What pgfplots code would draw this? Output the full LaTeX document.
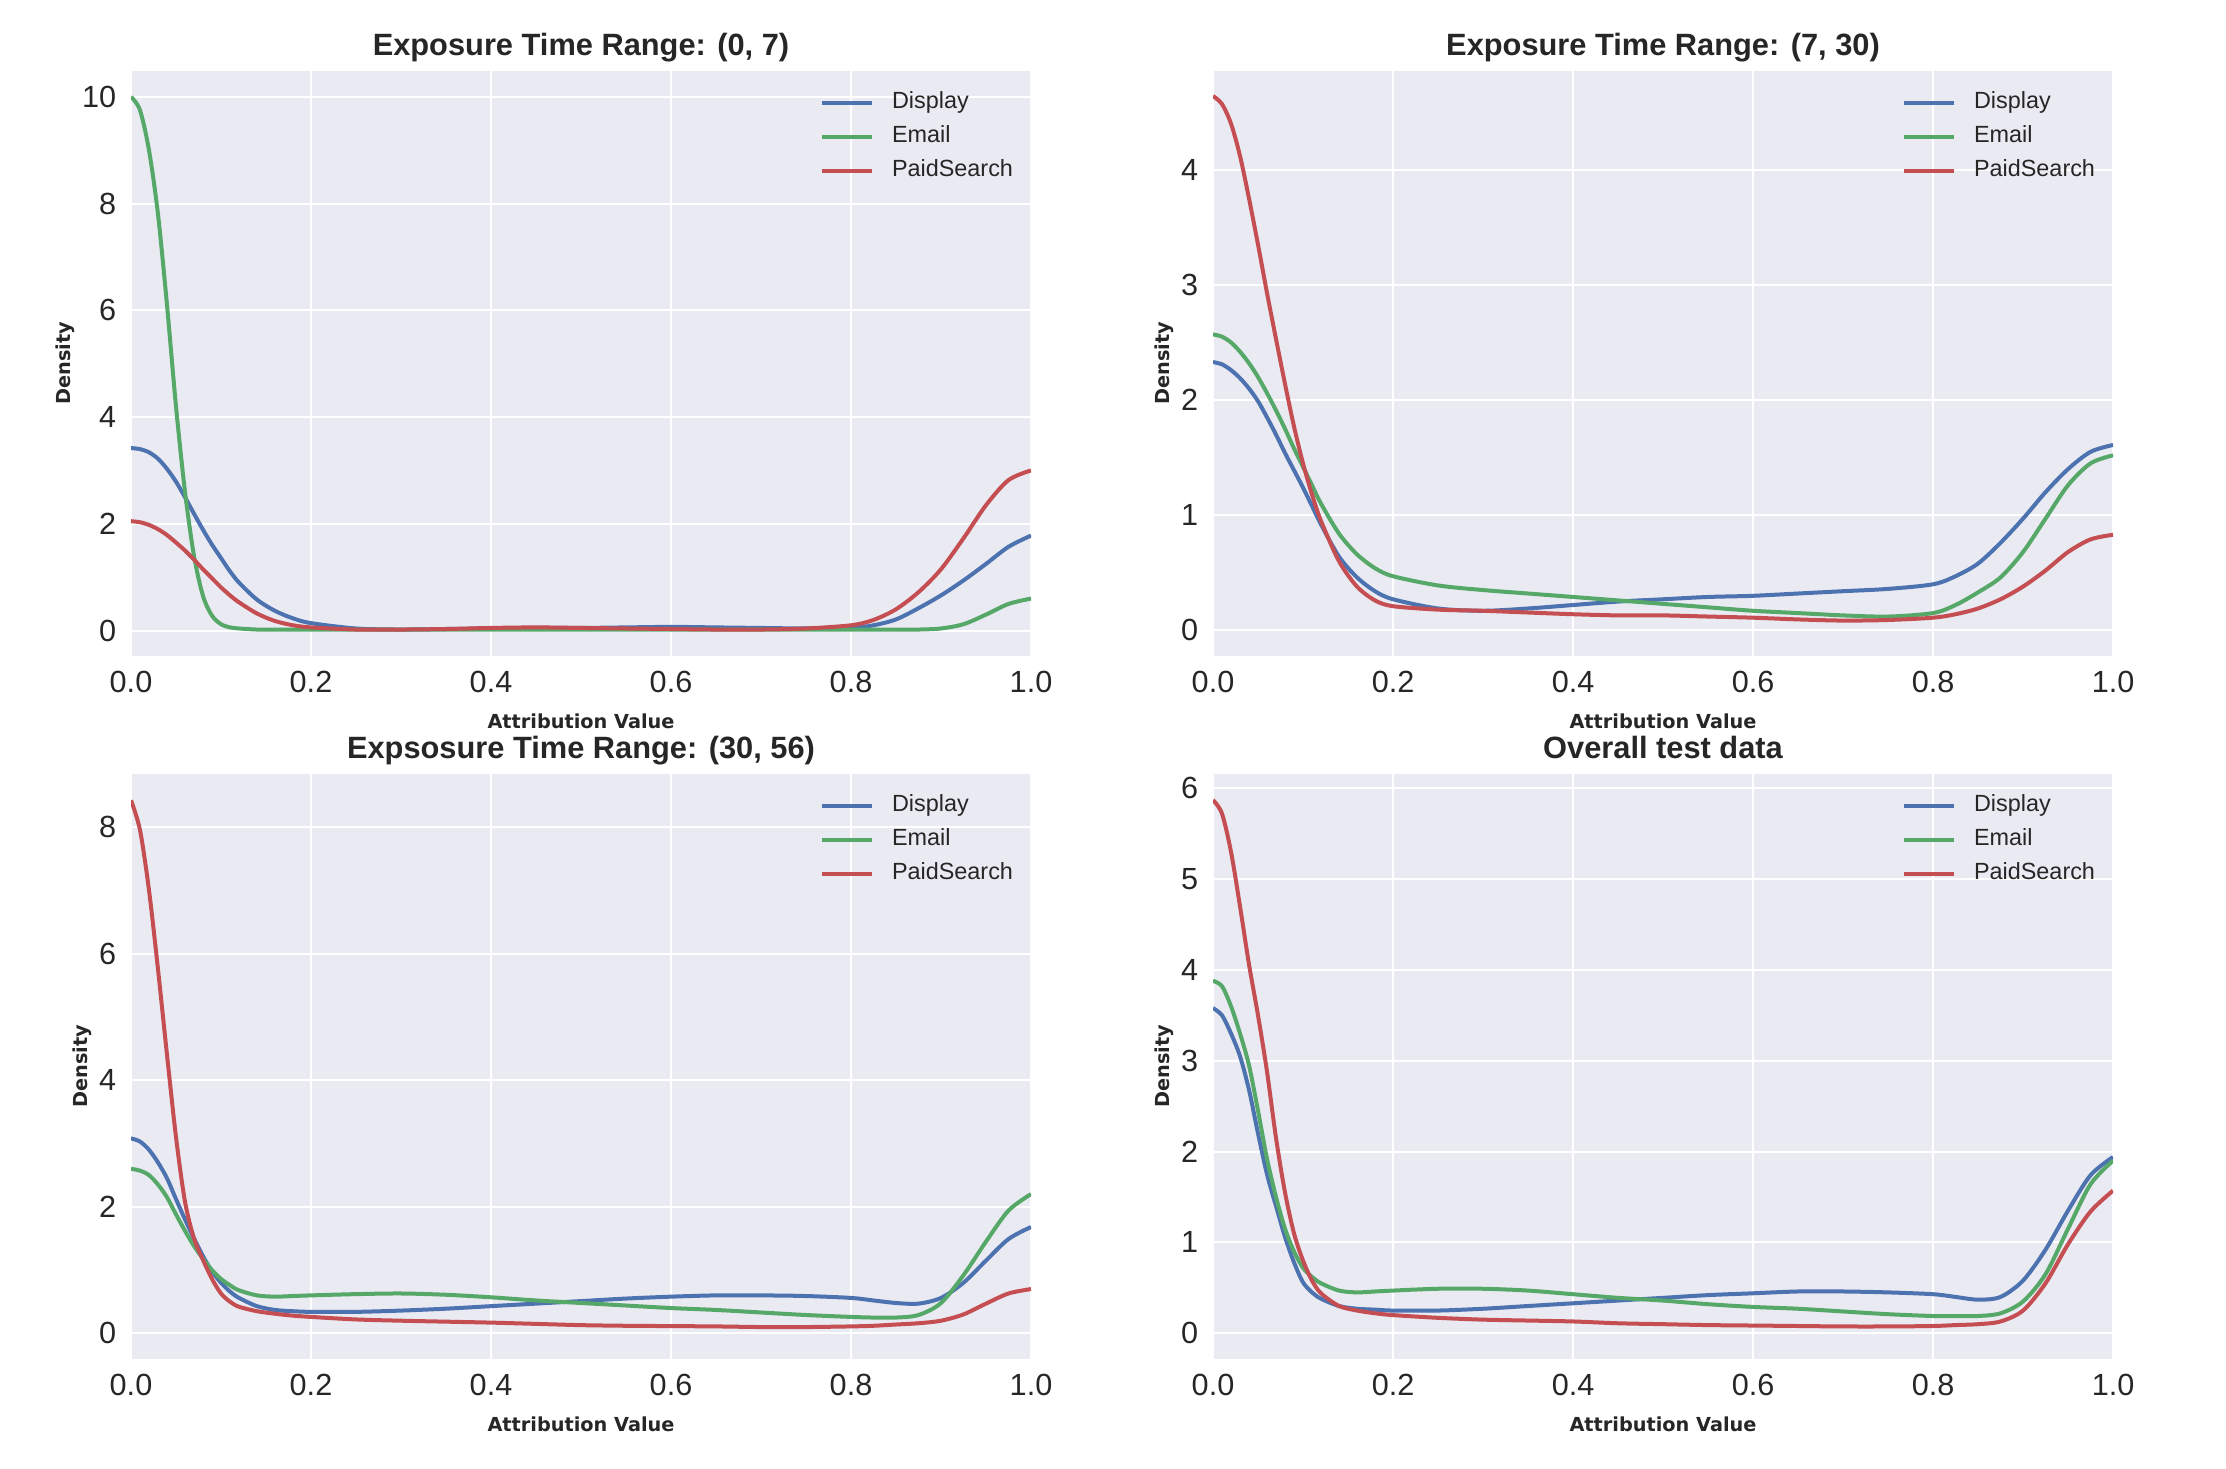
\documentclass[border=0pt]{standalone}
\usepackage{fontspec}
\setmainfont{Liberation Sans}
\newfontfamily\dejavu{DejaVu Sans}
\usepackage{pgfplots}
\pgfplotsset{compat=1.18}
\usepackage{pgfplotstable}
\definecolor{bgc}{HTML}{EAEAF2}
\definecolor{cdisp}{HTML}{4C72B0}
\definecolor{cmail}{HTML}{55A868}
\definecolor{cpaid}{HTML}{C44E52}
\definecolor{txt}{HTML}{262626}

% Exposure (0,7)
\pgfplotstableread{
x d e p
0 3.42 10.0 2.05
0.01 3.40 9.75 2.03
0.02 3.34 9.0 1.98
0.03 3.22 7.8 1.90
0.04 3.03 6.1 1.79
0.05 2.79 4.2 1.65
0.06 2.50 2.6 1.50
0.07 2.19 1.4 1.33
0.08 1.89 0.65 1.15
0.09 1.61 0.28 0.98
0.10 1.36 0.12 0.81
0.11 1.11 0.06 0.66
0.12 0.90 0.04 0.53
0.14 0.58 0.02 0.32
0.16 0.37 0.02 0.18
0.18 0.23 0.02 0.10
0.20 0.14 0.02 0.06
0.25 0.04 0.02 0.02
0.30 0.02 0.02 0.02
0.35 0.03 0.02 0.03
0.40 0.04 0.02 0.05
0.45 0.05 0.02 0.06
0.50 0.05 0.02 0.05
0.55 0.06 0.02 0.04
0.60 0.07 0.02 0.03
0.65 0.06 0.02 0.02
0.70 0.05 0.02 0.02
0.75 0.04 0.02 0.04
0.80 0.05 0.02 0.10
0.825 0.10 0.02 0.20
0.85 0.21 0.02 0.40
0.875 0.42 0.02 0.72
0.90 0.66 0.04 1.15
0.925 0.94 0.12 1.73
0.95 1.25 0.30 2.35
0.975 1.57 0.50 2.82
1.0 1.78 0.60 3.00
}\tA

% Exposure (7,30)
\pgfplotstableread{
x d e p
0 2.33 2.57 4.64
0.01 2.31 2.55 4.57
0.02 2.26 2.50 4.40
0.03 2.19 2.42 4.12
0.04 2.10 2.32 3.75
0.05 1.99 2.20 3.35
0.06 1.85 2.06 2.93
0.07 1.70 1.91 2.53
0.08 1.54 1.75 2.14
0.09 1.39 1.58 1.77
0.10 1.24 1.42 1.45
0.11 1.08 1.26 1.18
0.12 0.92 1.10 0.95
0.14 0.64 0.84 0.60
0.16 0.46 0.66 0.38
0.18 0.34 0.54 0.26
0.20 0.27 0.47 0.21
0.25 0.19 0.39 0.18
0.30 0.17 0.35 0.17
0.35 0.19 0.32 0.155
0.40 0.22 0.29 0.14
0.45 0.25 0.26 0.13
0.50 0.27 0.23 0.13
0.55 0.29 0.20 0.12
0.60 0.30 0.17 0.11
0.65 0.32 0.15 0.095
0.70 0.34 0.13 0.085
0.75 0.36 0.12 0.09
0.80 0.40 0.15 0.11
0.825 0.47 0.22 0.14
0.85 0.58 0.33 0.19
0.875 0.76 0.46 0.27
0.90 0.97 0.68 0.38
0.925 1.20 0.97 0.52
0.95 1.40 1.26 0.68
0.975 1.55 1.45 0.79
1.0 1.61 1.52 0.83
}\tB

% Exposure (30,56)
\pgfplotstableread{
x d e p
0 3.08 2.60 8.42
0.01 3.03 2.57 7.95
0.02 2.90 2.50 7.00
0.03 2.70 2.35 5.75
0.04 2.45 2.15 4.40
0.05 2.12 1.88 3.10
0.06 1.80 1.62 2.08
0.07 1.50 1.38 1.50
0.08 1.22 1.18 1.16
0.09 0.98 1.00 0.86
0.10 0.80 0.86 0.63
0.11 0.66 0.76 0.50
0.12 0.56 0.68 0.42
0.14 0.43 0.60 0.35
0.16 0.37 0.58 0.31
0.18 0.35 0.59 0.28
0.20 0.34 0.60 0.26
0.25 0.34 0.62 0.22
0.30 0.36 0.63 0.20
0.35 0.39 0.61 0.185
0.40 0.43 0.57 0.17
0.45 0.47 0.52 0.15
0.50 0.51 0.48 0.13
0.55 0.55 0.44 0.12
0.60 0.58 0.40 0.115
0.65 0.60 0.37 0.11
0.70 0.60 0.33 0.10
0.75 0.59 0.29 0.10
0.80 0.56 0.26 0.11
0.825 0.52 0.25 0.12
0.85 0.48 0.25 0.14
0.875 0.47 0.29 0.16
0.90 0.56 0.48 0.20
0.925 0.80 0.92 0.30
0.95 1.15 1.45 0.47
0.975 1.49 1.94 0.63
1.0 1.68 2.20 0.70
}\tC

% Overall
\pgfplotstableread{
x d e p
0 3.58 3.88 5.87
0.01 3.50 3.82 5.72
0.02 3.30 3.60 5.30
0.03 3.05 3.30 4.70
0.04 2.68 2.95 4.06
0.05 2.20 2.45 3.50
0.06 1.75 1.92 2.88
0.07 1.40 1.50 2.15
0.08 1.06 1.15 1.55
0.09 0.78 0.90 1.10
0.10 0.56 0.72 0.80
0.11 0.45 0.62 0.58
0.12 0.38 0.55 0.44
0.14 0.30 0.47 0.30
0.16 0.27 0.45 0.25
0.18 0.26 0.46 0.22
0.20 0.25 0.47 0.20
0.25 0.25 0.49 0.17
0.30 0.27 0.49 0.15
0.35 0.30 0.47 0.14
0.40 0.33 0.43 0.13
0.45 0.36 0.39 0.11
0.50 0.39 0.36 0.10
0.55 0.42 0.32 0.09
0.60 0.44 0.29 0.085
0.65 0.46 0.27 0.08
0.70 0.46 0.24 0.075
0.75 0.45 0.21 0.075
0.80 0.43 0.19 0.08
0.825 0.40 0.19 0.09
0.85 0.37 0.19 0.10
0.875 0.40 0.22 0.13
0.90 0.58 0.35 0.25
0.925 0.92 0.65 0.55
0.95 1.35 1.15 0.98
0.975 1.74 1.64 1.34
1.0 1.94 1.90 1.57
}\tD

\pgfplotsset{
  kde/.style={
    scale only axis, width=450pt, height=292.5pt,
    xmin=0, xmax=1,
    axis background/.style={fill=bgc},
    axis line style={draw=none},
    major tick length=0pt,
    grid=major,
    major grid style={white, line width=1pt},
    xtick={0,0.2,0.4,0.6,0.8,1.0},
    /pgf/number format/assume math mode=true,
    tick label style={font=\fontsize{15.3}{18}\selectfont, text=txt},
    xticklabel style={/pgf/number format/fixed, /pgf/number format/fixed zerofill, /pgf/number format/precision=1, yshift=-4.4pt},
    yticklabel style={xshift=-3.9pt},
    every axis title/.style={at={(axis description cs:0.5,1)}, anchor=base, yshift=7.5pt, font=\fontsize{15.4}{18}\selectfont\bfseries, text=txt},
    xlabel={Attribution Value},
    ylabel={Density},
    every axis x label/.style={at={(axis description cs:0.5,0)}, anchor=base, yshift=-36.5pt, font=\dejavu\bfseries\fontsize{9.65}{11}\selectfont, text=txt},
    ylabel style={font=\dejavu\bfseries\fontsize{9.65}{11}\selectfont, inner sep=0pt, text=txt},
    legend style={at={(axis description cs:1,1)}, anchor=north east, xshift=-9pt, yshift=-10.5pt, draw=none, fill=none, inner sep=0pt, outer sep=0pt, row sep=6pt, column sep=9pt, font=\fontsize{11.7}{14}\selectfont, text=txt, nodes={inner sep=0pt, text height=8.5pt, text depth=2.5pt}},
    legend cell align=left,
    legend image code/.code={\draw[#1, line width=2pt] (0pt,0pt) -- (25pt,0pt);},
    every axis plot/.append style={line width=2pt, smooth, no marks},
  }
}

\begin{document}
\begin{tikzpicture}
\useasboundingbox (0,0) rectangle (1113pt,734pt);
\begin{axis}[kde, at={(65.5pt,406.15pt)}, anchor=south west, ymin=-0.47, ymax=10.49, ytick={0,2,4,6,8,10}, title={Exposure Time Range: (0, 7)}]
\addplot[cdisp] table[x=x,y=d]{\tA};
\addplot[cmail] table[x=x,y=e]{\tA};
\addplot[cpaid] table[x=x,y=p]{\tA};
\legend{Display,Email,PaidSearch}
\end{axis}
\begin{axis}[kde, at={(606.5pt,406.15pt)}, anchor=south west, ymin=-0.22, ymax=4.86, ytick={0,1,2,3,4}, title={Exposure Time Range: (7, 30)}]
\addplot[cdisp] table[x=x,y=d]{\tB};
\addplot[cmail] table[x=x,y=e]{\tB};
\addplot[cpaid] table[x=x,y=p]{\tB};
\legend{Display,Email,PaidSearch}
\end{axis}
\begin{axis}[kde, at={(65.5pt,54.65pt)}, anchor=south west, ymin=-0.4, ymax=8.84, ytick={0,2,4,6,8}, title={Expsosure Time Range: (30, 56)}]
\addplot[cdisp] table[x=x,y=d]{\tC};
\addplot[cmail] table[x=x,y=e]{\tC};
\addplot[cpaid] table[x=x,y=p]{\tC};
\legend{Display,Email,PaidSearch}
\end{axis}
\begin{axis}[kde, at={(606.5pt,54.65pt)}, anchor=south west, ymin=-0.28, ymax=6.16, ytick={0,1,2,3,4,5,6}, title={Overall test data}]
\addplot[cdisp] table[x=x,y=d]{\tD};
\addplot[cmail] table[x=x,y=e]{\tD};
\addplot[cpaid] table[x=x,y=p]{\tD};
\legend{Display,Email,PaidSearch}
\end{axis}
\end{tikzpicture}
\end{document}
